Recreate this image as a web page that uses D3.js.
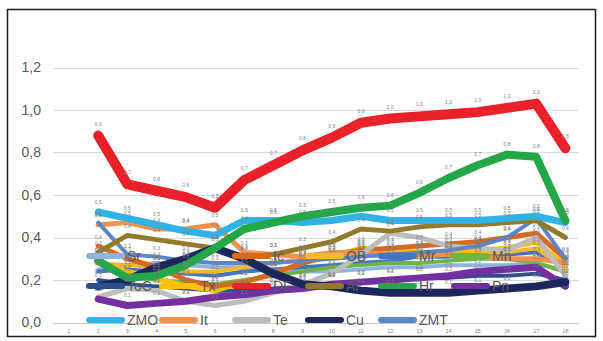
<!DOCTYPE html>
<html lang="en">
<head>
  <meta charset="UTF-8">
  <title>Line chart</title>
  <script src="https://d3js.org/d3.v7.min.js"></script>
  <style>
    body { margin: 0; background: #fff; }
    text { font-family: "Liberation Sans", Arial, sans-serif; }
  </style>
</head>
<body>
  <script>
    // categories 1..18, first category has no value
    const categories = d3.range(1, 19);
    const yTicks = [0, 0.2, 0.4, 0.6, 0.8, 1.0, 1.2];

    const DF  = [null, 0.88, 0.65, 0.62, 0.59, 0.54, 0.67, 0.74, 0.81, 0.87, 0.94, 0.96, 0.97, 0.98, 0.99, 1.01, 1.03, 0.82];
    const Hr  = [null, 0.29, 0.21, 0.22, 0.27, 0.35, 0.44, 0.47, 0.50, 0.52, 0.54, 0.55, 0.61, 0.68, 0.74, 0.79, 0.78, 0.48];
    const ZMO = [null, 0.52, 0.49, 0.46, 0.43, 0.41, 0.48, 0.48, 0.47, 0.48, 0.50, 0.48, 0.48, 0.48, 0.48, 0.49, 0.50, 0.47];
    const It  = [null, 0.46, 0.47, 0.44, 0.44, 0.46, 0.33, 0.32, 0.31, 0.33, 0.33, 0.32, 0.32, 0.32, 0.31, 0.30, 0.30, 0.28];
    const Al  = [null, 0.33, 0.41, 0.39, 0.37, 0.35, 0.31, 0.32, 0.35, 0.38, 0.44, 0.43, 0.45, 0.46, 0.46, 0.47, 0.48, 0.40];
    const Cu  = [null, 0.17, 0.20, 0.26, 0.30, 0.35, 0.30, 0.23, 0.18, 0.17, 0.15, 0.14, 0.14, 0.14, 0.15, 0.16, 0.17, 0.19];
    const Pn  = [null, 0.11, 0.08, 0.09, 0.10, 0.12, 0.13, 0.15, 0.16, 0.18, 0.19, 0.20, 0.21, 0.22, 0.24, 0.25, 0.26, 0.17];
    const Te  = [null, 0.12, 0.16, 0.15, 0.10, 0.08, 0.10, 0.14, 0.18, 0.23, 0.32, 0.42, 0.40, 0.36, 0.35, 0.34, 0.40, 0.22];
    const ZMT = [null, 0.47, 0.32, 0.31, 0.29, 0.28, 0.28, 0.28, 0.29, 0.30, 0.31, 0.32, 0.33, 0.34, 0.36, 0.40, 0.49, 0.30];
    const Ic  = [null, 0.36, 0.30, 0.26, 0.20, 0.17, 0.19, 0.23, 0.28, 0.32, 0.34, 0.35, 0.36, 0.37, 0.38, 0.40, 0.42, 0.30];
    const Tx  = [null, 0.28, 0.24, 0.21, 0.17, 0.15, 0.19, 0.23, 0.28, 0.31, 0.35, 0.34, 0.33, 0.33, 0.34, 0.35, 0.38, 0.27];
    const OB  = [null, 0.28, 0.27, 0.26, 0.24, 0.24, 0.26, 0.28, 0.30, 0.31, 0.32, 0.31, 0.31, 0.32, 0.33, 0.33, 0.35, 0.25];
    const Mn  = [null, 0.30, 0.22, 0.20, 0.19, 0.18, 0.20, 0.22, 0.24, 0.26, 0.27, 0.28, 0.28, 0.29, 0.30, 0.30, 0.28, 0.24];
    const Mr  = [null, 0.24, 0.25, 0.24, 0.23, 0.22, 0.24, 0.25, 0.26, 0.27, 0.28, 0.29, 0.31, 0.31, 0.32, 0.32, 0.33, 0.26];
    const Sr  = [null, 0.25, 0.27, 0.28, 0.27, 0.26, 0.26, 0.25, 0.24, 0.24, 0.25, 0.26, 0.26, 0.27, 0.27, 0.27, 0.28, 0.24];
    const ToC = [null, 0.20, 0.18, 0.17, 0.16, 0.15, 0.15, 0.16, 0.17, 0.18, 0.19, 0.20, 0.21, 0.21, 0.22, 0.22, 0.23, 0.20];

    const seriesValues = { DF, Hr, ZMO, It, Al, Cu, Pn, Te, ZMT, Ic, Tx, OB, Mn, Mr, Sr, ToC };

    // drawing order (back to front)
    const drawOrder = ["Sr", "ToC", "Mr", "Mn", "OB", "Tx", "Ic", "It", "Te", "ZMT", "Al", "Pn", "Cu", "ZMO", "Hr", "DF"];

    const legendRows = [
      ["Sr", null, "Ic", "OB", "Mr", "Mn"],
      ["ToC", "Tx", "DF", "Al", "Hr", "Pn"],
      ["ZMO", "It", "Te", "Cu", "ZMT"]
    ];

    const style = {
      DF:  { color: "#e8212b", w: 10 },
      Hr:  { color: "#24a748", w: 8 },
      ZMO: { color: "#31b2e6", w: 7 },
      It:  { color: "#f0924c", w: 5 },
      Al:  { color: "#95792a", w: 5 },
      Cu:  { color: "#1c275b", w: 8 },
      Pn:  { color: "#7230a0", w: 7 },
      Te:  { color: "#bdbdbd", w: 5 },
      ZMT: { color: "#5d86c8", w: 4 },
      Ic:  { color: "#d4691f", w: 5 },
      Tx:  { color: "#ffc000", w: 5 },
      OB:  { color: "#f6b82a", w: 4 },
      Mn:  { color: "#6fb545", w: 4 },
      Mr:  { color: "#4474c2", w: 4 },
      Sr:  { color: "#8fb4e0", w: 4 },
      ToC: { color: "#2b4f8f", w: 4 }
    };

    const width = 603, height = 341;
    const svg = d3.select("body").append("svg")
      .attr("width", width)
      .attr("height", height);

    // outer frame
    svg.append("rect")
      .attr("x", 7.5).attr("y", 9.5)
      .attr("width", 588).attr("height", 327)
      .attr("fill", "#fff")
      .attr("stroke", "#1a1a1a")
      .attr("stroke-width", 1.5);

    const x = d3.scalePoint().domain(categories).range([54.4, 580]).padding(0.5);
    const y = d3.scaleLinear().domain([0, 1.2]).range([322.5, 67.5]);
    const fmt = v => d3.format(".1f")(v).replace(".", ",");

    // gridlines
    svg.append("g")
      .selectAll("line")
      .data(yTicks)
      .join("line")
      .attr("x1", 53).attr("x2", 579)
      .attr("y1", d => Math.round(y(d)) + 0.5)
      .attr("y2", d => Math.round(y(d)) + 0.5)
      .attr("stroke", d => d === 0 ? "#c8c8c8" : "#d9d9d9")
      .attr("stroke-width", 1);

    // y axis labels
    svg.append("g")
      .selectAll("text")
      .data(yTicks)
      .join("text")
      .attr("x", 41)
      .attr("y", d => y(d))
      .attr("dy", "0.35em")
      .attr("text-anchor", "end")
      .attr("font-size", 14)
      .attr("fill", "#595959")
      .text(d => fmt(d));

    // x axis labels
    svg.append("g")
      .selectAll("text")
      .data(categories)
      .join("text")
      .attr("x", d => x(d))
      .attr("y", 333)
      .attr("text-anchor", "middle")
      .attr("font-size", 5.5)
      .attr("fill", "#7f7f7f")
      .text(d => d);

    const line = d3.line()
      .defined(d => d.v != null)
      .x(d => x(d.c))
      .y(d => y(d.v));

    const series = drawOrder.map(name => ({
      name,
      points: categories.map((c, i) => ({ c, v: seriesValues[name][i] }))
    }));

    svg.append("g")
      .attr("fill", "none")
      .attr("stroke-linejoin", "round")
      .attr("stroke-linecap", "round")
      .selectAll("path")
      .data(series)
      .join("path")
      .attr("stroke", d => style[d.name].color)
      .attr("stroke-width", d => style[d.name].w)
      .attr("d", d => line(d.points));

    // data labels
    svg.append("g")
      .selectAll("g")
      .data(series)
      .join("g")
      .selectAll("text")
      .data(d => d.points.filter(p => p.v != null).map(p => ({ ...p, w: style[d.name].w })))
      .join("text")
      .attr("x", d => x(d.c))
      .attr("y", d => y(d.v) - d.w / 2 - 5)
      .attr("text-anchor", "middle")
      .attr("font-size", 5)
      .attr("fill", "#7f7f7f")
      .text(d => fmt(d.v));

    // legend
    const legendY = [256, 286, 320];
    const legend = svg.append("g");
    legendRows.forEach((row, r) => {
      row.forEach((name, i) => {
        if (!name) return;
        const lx = 86 + i * 73;
        const g = legend.append("g").attr("transform", `translate(${lx},${legendY[r]})`);
        g.append("line")
          .attr("x1", 3).attr("x2", 36)
          .attr("stroke", style[name].color)
          .attr("stroke-width", 6)
          .attr("stroke-linecap", "round");
        g.append("text")
          .attr("x", 41)
          .attr("dy", "0.35em")
          .attr("font-size", 14)
          .attr("fill", "#595959")
          .text(name);
      });
    });
  </script>
</body>
</html>
